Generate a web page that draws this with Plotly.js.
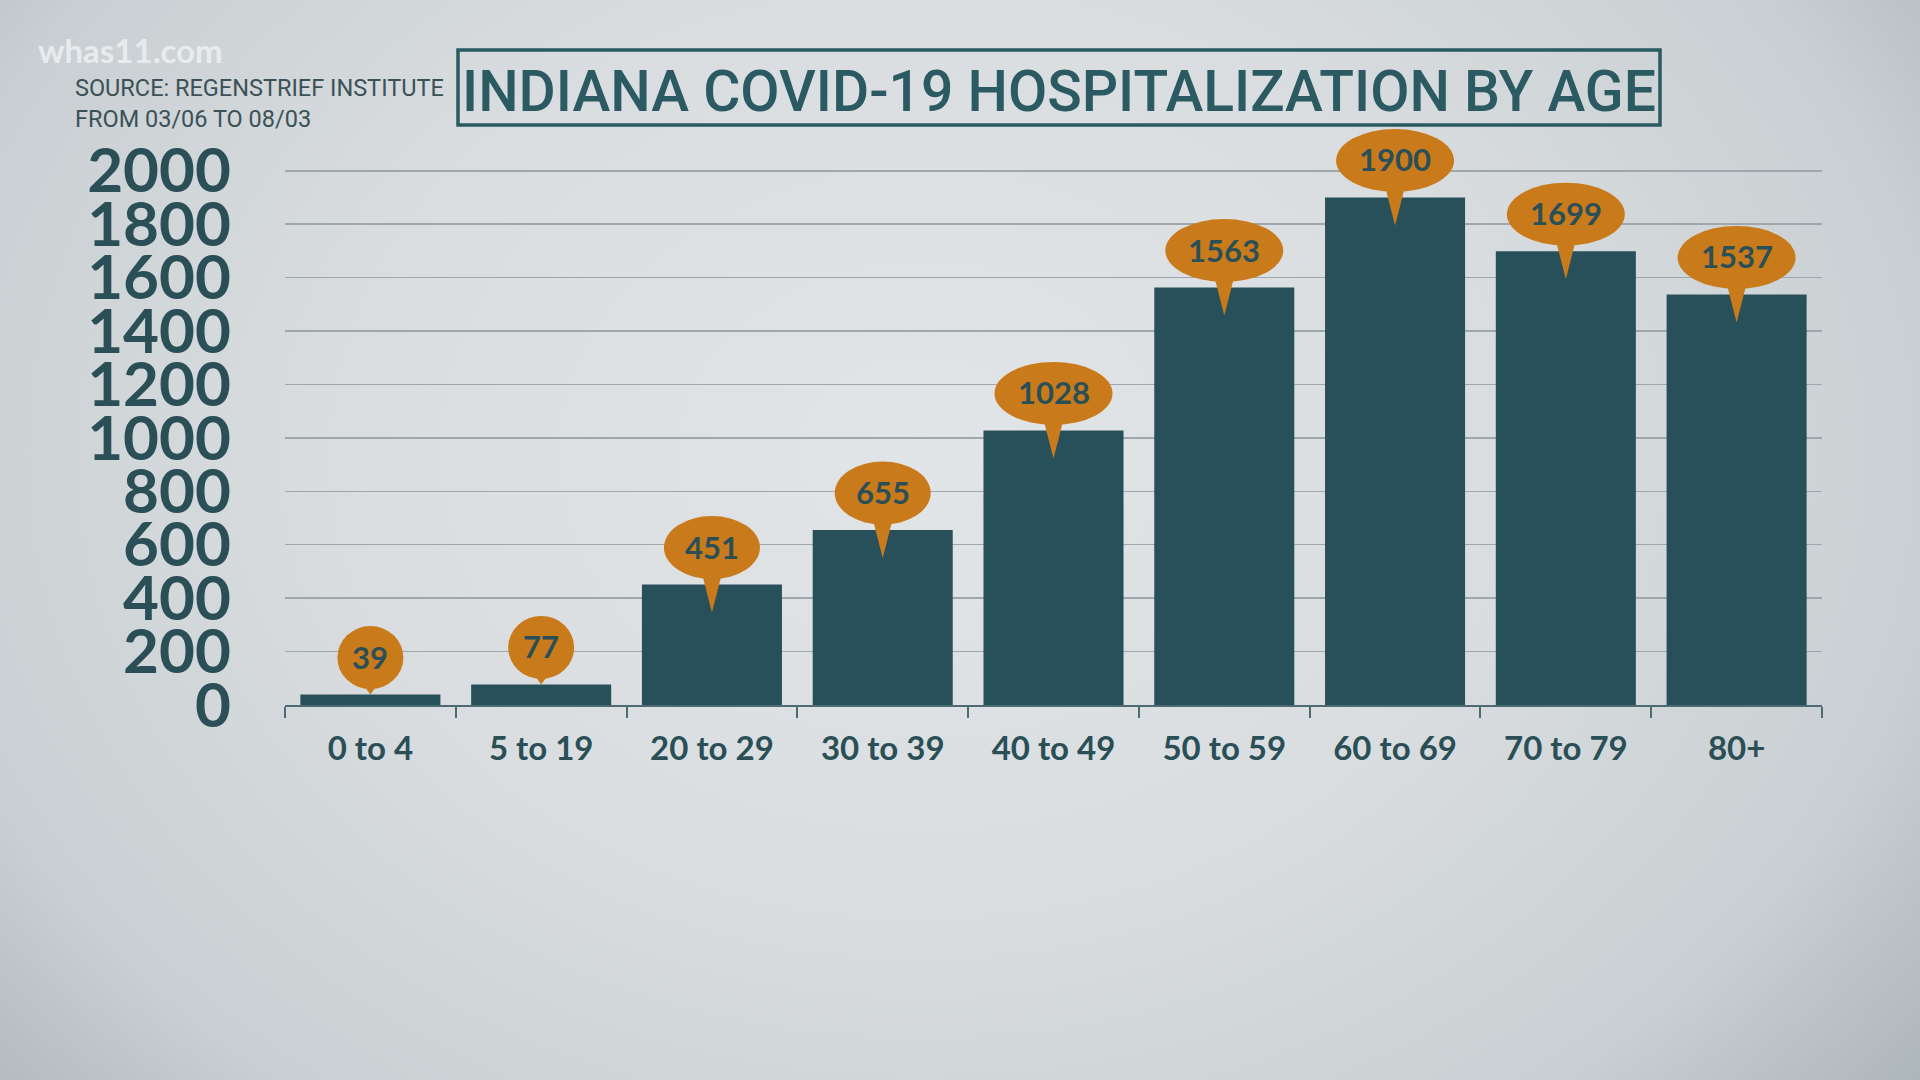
<!DOCTYPE html>
<html>
<head>
<meta charset="utf-8">
<script src="https://cdn.plot.ly/plotly-3.0.1.min.js"></script>
<style>
  html, body { margin: 0; padding: 0; }
  body {
    width: 1920px; height: 1080px; overflow: hidden;
    background: radial-gradient(ellipse 68% 95% at 48% 42%, #e2e5e7 0%, #d9dde0 45%, #c9cfd2 78%, #aab3b8 100%);
  }
  #chart { width: 1920px; height: 1080px; }
</style>
</head>
<body>
<div id="chart"></div>
<script>
// ---- data ----
const categories = ['0 to 4', '5 to 19', '20 to 29', '30 to 39', '40 to 49', '50 to 59', '60 to 69', '70 to 79', '80+'];
const hospitalizations = [39, 77, 451, 655, 1028, 1563, 1900, 1699, 1537];
const yTickVals = [0, 200, 400, 600, 800, 1000, 1200, 1400, 1600, 1800, 2000];
const yTickText = ['0', '200', '400', '600', '800', '1000', '1200', '1400', '1600', '1800', '2000'];
const titleText = 'INDIANA COVID-19 HOSPITALIZATION BY AGE';
const sourceLine1 = 'SOURCE: REGENSTRIEF INSTITUTE';
const sourceLine2 = 'FROM 03/06 TO 08/03';
const brandText = 'whas11.com';

// ---- style ----
const TEAL = '#28505a';
const TEXT_TEAL = '#2a4f57';
const ORANGE = '#c97b1b';
const W = 1920, H = 1080;
const M = { l: 285, r: 98, t: 104, b: 375 };
const plotW = W - M.l - M.r, plotH = H - M.t - M.b;
const px2x = p => (p - M.l) / plotW;
const px2y = p => (H - M.b - p) / plotH;

const bubbleW = { 2: 66, 3: 96, 4: 118 };
const bubbleH = 63;
const bubbleRise = 37;

const shapes = [];
const annotations = [];

hospitalizations.forEach((v, i) => {
  const label = String(v);
  const bw = bubbleW[label.length] || 118;
  const tip = v >= 200 ? -28 : 0;
  // pointer
  shapes.push({
    type: 'path', layer: 'above', xref: 'x', yref: 'y',
    xsizemode: 'pixel', ysizemode: 'pixel', xanchor: i, yanchor: v,
    path: `M -11 ${bubbleRise - 22} L 11 ${bubbleRise - 22} L 0 ${tip} Z`,
    fillcolor: ORANGE, line: { width: 0 }
  });
  // bubble
  shapes.push({
    type: 'circle', layer: 'above', xref: 'x', yref: 'y',
    xsizemode: 'pixel', ysizemode: 'pixel', xanchor: i, yanchor: v,
    x0: -bw / 2, x1: bw / 2, y0: bubbleRise - bubbleH / 2, y1: bubbleRise + bubbleH / 2,
    fillcolor: ORANGE, line: { width: 0 }
  });
  annotations.push({
    x: i, y: v, xref: 'x', yref: 'y', yshift: bubbleRise + 1,
    text: label, showarrow: false,
    font: { family: 'Lato, sans-serif', size: 31, color: TEXT_TEAL, weight: 700 }
  });
});

// title box
shapes.push({
  type: 'rect', xref: 'paper', yref: 'paper',
  x0: px2x(458), x1: px2x(1660), y0: px2y(125), y1: px2y(50),
  line: { color: '#2b5a62', width: 3.5 }, fillcolor: 'rgba(0,0,0,0)'
});
annotations.push({
  x: px2x(1059), y: px2y(91), xref: 'paper', yref: 'paper',
  xanchor: 'center', yanchor: 'middle', showarrow: false,
  text: titleText,
  font: { family: 'Roboto, sans-serif', size: 57, color: '#2b5a62', weight: 500 }
});
annotations.push({
  x: px2x(73), y: px2y(88), xref: 'paper', yref: 'paper',
  xanchor: 'left', yanchor: 'middle', showarrow: false,
  text: sourceLine1,
  font: { family: 'Roboto, sans-serif', size: 23.5, color: '#3b5157' }
});
annotations.push({
  x: px2x(73), y: px2y(119), xref: 'paper', yref: 'paper',
  xanchor: 'left', yanchor: 'middle', showarrow: false,
  text: sourceLine2,
  font: { family: 'Roboto, sans-serif', size: 23.5, color: '#3b5157' }
});
annotations.push({
  x: px2x(36), y: px2y(50), xref: 'paper', yref: 'paper',
  xanchor: 'left', yanchor: 'middle', showarrow: false,
  text: brandText,
  font: { family: 'Lato, sans-serif', size: 33, color: 'rgba(240,243,245,0.8)', weight: 700 }
});

const trace = {
  type: 'bar', x: categories, y: hospitalizations,
  marker: { color: TEAL, line: { width: 0 } },
  hoverinfo: 'none', cliponaxis: false
};

const layout = {
  width: W, height: H,
  margin: M,
  paper_bgcolor: 'rgba(0,0,0,0)', plot_bgcolor: 'rgba(0,0,0,0)',
  bargap: 0.18,
  showlegend: false,
  xaxis: {
    type: 'category', range: [-0.5, categories.length - 0.5],
    showline: true, linecolor: '#4d6b72', linewidth: 2,
    ticks: 'outside', tickson: 'boundaries', ticklen: 11, tickwidth: 2, tickcolor: '#4d6b72',
    showgrid: false, zeroline: false,
    ticklabelstandoff: 13,
    tickfont: { family: 'Lato, sans-serif', size: 33, color: TEXT_TEAL, weight: 700 },
    fixedrange: true
  },
  yaxis: {
    range: [0, 2250],
    tickmode: 'array', tickvals: yTickVals, ticktext: yTickText,
    showgrid: true, gridcolor: '#9ea8ac', gridwidth: 1.5,
    zeroline: false, showline: false, ticks: '',
    ticklabelstandoff: 53,
    tickfont: { family: 'Lato, sans-serif', size: 62, color: TEXT_TEAL, weight: 700 },
    fixedrange: true
  },
  shapes: shapes,
  annotations: annotations
};

Plotly.newPlot('chart', [trace], layout, { displayModeBar: false, staticPlot: true });
</script>
</body>
</html>
